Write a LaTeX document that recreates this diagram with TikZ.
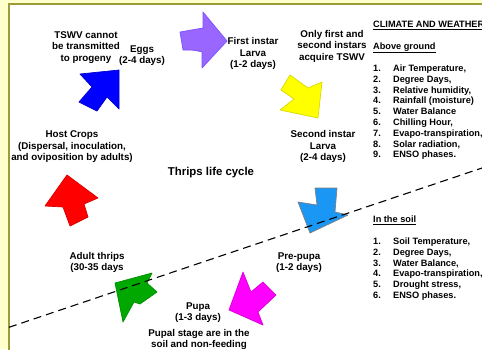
\documentclass[tikz,border=0pt]{standalone}
\usepackage{fontspec}
\setmainfont{Liberation Sans}
\usepackage{xcolor}
\definecolor{paleyellow}{HTML}{FFFFCC}
\definecolor{frameolive}{HTML}{9C9C3A}
\definecolor{eggblue}{HTML}{0000FF}
\definecolor{larvapurple}{HTML}{9966FF}
\definecolor{instaryellow}{HTML}{FFFF00}
\definecolor{prepupablue}{HTML}{1A96F5}
\definecolor{pupamagenta}{HTML}{FF00FF}
\definecolor{adultgreen}{HTML}{00A800}
\definecolor{hostred}{HTML}{FF0000}
\tikzset{
  lbl/.style={align=center, anchor=base, inner sep=0pt, font=\fontsize{9.8}{11.5}\selectfont\bfseries},
  hdr/.style={anchor=base west, inner sep=0pt, font=\fontsize{9.2}{10.8}\selectfont\bfseries},
  blob/.style={line width=0.7pt, line join=round}
}
\begin{document}
\begin{tikzpicture}[x=1pt,y=-1pt]
\useasboundingbox (0,0) rectangle (482,349);
\clip (0,0) rectangle (482,349);
\fill[paleyellow] (0,0) rectangle (482,349);
\draw[frameolive, line width=1.3pt, fill=white] (9,4) rectangle (495,360);
% cycle arrows
\filldraw[blob, fill=eggblue, draw=eggblue!80!black] (80,74)--(119,70)--(119,109)--(107,97)--(97,111)--(79,102)--(92,87)--cycle;
\filldraw[blob, fill=larvapurple, draw=larvapurple!80!blue] (180,32)--(203,28)--(203,12)--(227,41)--(202,68)--(202,52) .. controls (194,50) .. (183,50)--cycle;
\filldraw[blob, fill=instaryellow, draw=instaryellow!85!black] (290,75)--(308,88)--(322,82)--(318,118)--(280,110)--(294,99)--(281,90)--cycle;
\filldraw[blob, fill=prepupablue, draw=gray] (315,188)--(337,188)--(335,212)--(348,215)--(310,233)--(298,202)--(317,205)--cycle;
\filldraw[blob, fill=pupamagenta, draw=pupamagenta!85!black] (229,310)--(243,272)--(251,292)--(263,282)--(276,295)--(258,312)--(263,325)--cycle;
\filldraw[blob, fill=adultgreen, draw=adultgreen!85!black] (115,283)--(152,273)--(147,283)--(157,292)--(140,304)--(134,302)--(123,322)--cycle;
\filldraw[blob, fill=hostred, draw=hostred!85!black] (67,175)--(98,198)--(84,204)--(88,217)--(70,226)--(63,207)--(45,206)--cycle;
% soil line
\coordinate (soilleft) at (9,327.3);
\coordinate (soilright) at (482,168);
\draw[line width=1.1pt, dash pattern=on 8pt off 5pt] (soilleft) -- (soilright);
% labels (anchored at the last line)
\node[lbl] (tswv) at (86,61) {TSWV cannot\\be transmitted\\to progeny};
\node[lbl] (eggs) at (142,63.5) {Eggs\\(2-4 days)};
\node[lbl] (firstinstar) at (253,67.5) {First instar\\Larva\\(1-2 days)};
\node[lbl] (acquire) at (332,60) {Only first and\\second instars\\acquire TSWV};
\node[lbl] (secondinstar) at (323,160.5) {Second instar\\Larva\\(2-4 days)};
\node[lbl, font=\fontsize{11.4}{13}\selectfont\bfseries] (title) at (211,175.5) {Thrips life cycle};
\node[lbl] (hostcrops) at (72,160.5) {Host Crops\\(Dispersal, inoculation,\\and oviposition by adults)};
\node[lbl] (adult) at (97,270.5) {Adult thrips\\(30-35 days};
\node[lbl] (pupa) at (198,320.5) {Pupa\\(1-3 days)};
\node[lbl] (pupalstage) at (199,347.5) {Pupal stage are in the\\soil and non-feeding};
\node[lbl] (prepupa) at (299,270.5) {Pre-pupa\\(1-2 days)};
% factors
\node[hdr] (climate) at (373,27.5) {\underline{CLIMATE AND WEATHER}};
\node[hdr] (above) at (373,49) {\underline{Above ground}};
\node[hdr] (abovelist) at (373,71.5) {\begin{tabular}[t]{@{}l@{\hspace{12.3pt}}l@{}}
1. & Air Temperature,\\
2. & Degree Days,\\
3. & Relative humidity,\\
4. & Rainfall (moisture)\\
5. & Water Balance\\
6. & Chilling Hour,\\
7. & Evapo-transpiration,\\
8. & Solar radiation,\\
9. & ENSO phases.
\end{tabular}};
\node[hdr] (soil) at (373,222.5) {\underline{In the soil}};
\node[hdr] (soillist) at (373,244.5) {\begin{tabular}[t]{@{}l@{\hspace{12.3pt}}l@{}}
1. & Soil Temperature,\\
2. & Degree Days,\\
3. & Water Balance,\\
4. & Evapo-transpiration,\\
5. & Drought stress,\\
6. & ENSO phases.
\end{tabular}};
\end{tikzpicture}
\end{document}
